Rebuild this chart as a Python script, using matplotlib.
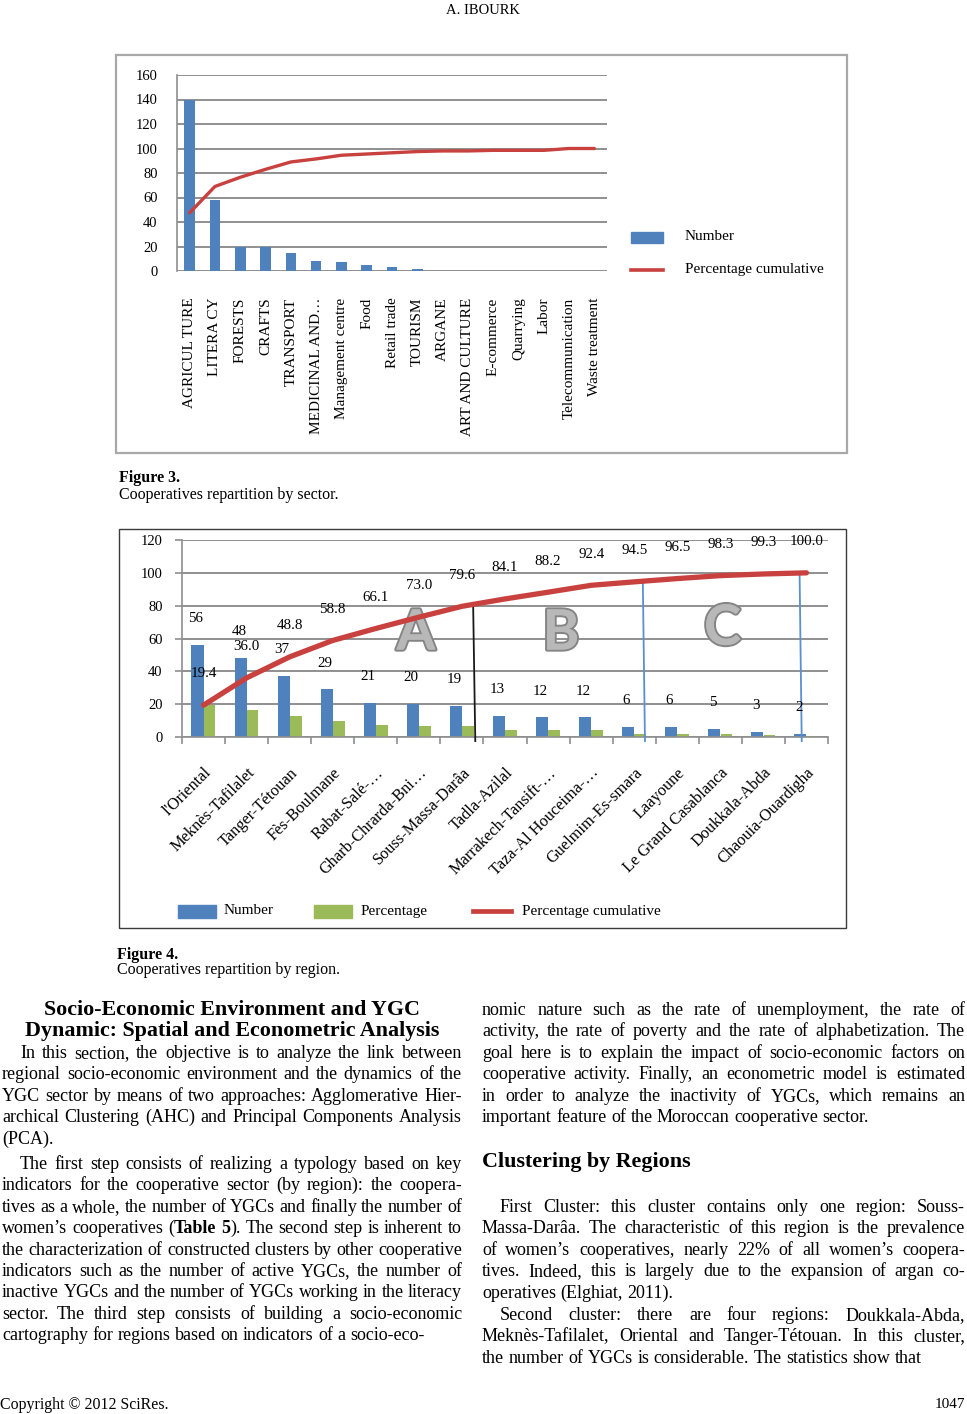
import matplotlib
matplotlib.use("Agg")
import matplotlib.pyplot as plt
import matplotlib.patheffects as pe
from matplotlib.patches import Rectangle
from matplotlib.lines import Line2D
import numpy as np

W, H = 967, 1414
SERIF = ["Liberation Serif", "DejaVu Serif"]
BLUE = "#4F81BD"
GREEN = "#9BBB59"
RED = "#C8413F"
GRID = "#8f8f8f"

# ---- Figure 3 data (by sector)
sectors = ["AGRICUL TURE", "LITERA CY", "FORESTS", "CRAFTS", "TRANSPORT",
           "MEDICINAL AND…", "Management centre", "Food", "Retail trade",
           "TOURISM", "ARGANE", "ART AND CULTURE", "E-commerce", "Quarrying",
           "Labor", "Telecommunication", "Waste treatment"]
sector_number = [140, 58, 20, 20, 15, 8, 7, 5, 3, 2, 0, 0, 0, 0, 0, 0, 0]
sector_cum = [47.5, 69, 76.5, 83, 89, 91.5, 94.5, 95.5, 96.5, 97.5, 98, 98,
              98.5, 98.5, 98.5, 100, 100]

# ---- Figure 4 data (by region)
regions = ["l'Oriental", "Meknès-Tafilalet", "Tanger-Tétouan", "Fès-Boulmane",
           "Rabat-Salé-…", "Gharb-Chrarda-Bni…", "Souss-Massa-Darâa",
           "Tadla-Azilal", "Marrakech-Tansift-…", "Taza-Al Houceima-…",
           "Guelmim-Es-smara", "Laayoune", "Le Grand Casablanca",
           "Doukkala-Abda", "Chaouia-Ouardigha"]
region_number = [56, 48, 37, 29, 21, 20, 19, 13, 12, 12, 6, 6, 5, 3, 2]
region_pct = [19.4, 16.6, 12.8, 10.0, 7.3, 6.9, 6.6, 4.5, 4.2, 4.2, 2.1, 2.1,
              1.7, 1.0, 0.7]
region_cum = [19.4, 36.0, 48.8, 58.8, 66.1, 73.0, 79.6, 84.1, 88.2, 92.4,
              94.5, 96.5, 98.3, 99.3, 100.0]
cluster_names = ["A", "B", "C"]

# ---- page text
left_paras = [
    ["In this section, the objective is to analyze the link between",
     "regional socio-economic environment and the dynamics of the",
     "YGC sector by means of two approaches: Agglomerative Hier-",
     "archical Clustering (AHC) and Principal Components Analysis",
     "(PCA)."],
    ["The first step consists of realizing a typology based on key",
     "indicators for the cooperative sector (by region): the coopera-",
     "tives as a whole, the number of YGCs and finally the number of",
     "women’s cooperatives (*Table 5*). The second step is inherent to",
     "the characterization of constructed clusters by other cooperative",
     "indicators such as the number of active YGCs, the number of",
     "inactive YGCs and the number of YGCs working in the literacy",
     "sector. The third step consists of building a socio-economic",
     "cartography for regions based on indicators of a socio-eco-"],
]
right_paras = [
    ["nomic nature such as the rate of unemployment, the rate of",
     "activity, the rate of poverty and the rate of alphabetization. The",
     "goal here is to explain the impact of socio-economic factors on",
     "cooperative activity. Finally, an econometric model is estimated",
     "in order to analyze the inactivity of YGCs, which remains an",
     "important feature of the Moroccan cooperative sector."],
    ["First Cluster: this cluster contains only one region: Souss-",
     "Massa-Darâa. The characteristic of this region is the prevalence",
     "of women’s cooperatives, nearly 22% of all women’s coopera-",
     "tives. Indeed, this is largely due to the expansion of argan co-",
     "operatives (Elghiat, 2011)."],
    ["Second cluster: there are four regions: Doukkala-Abda,",
     "Meknès-Tafilalet, Oriental and Tanger-Tétouan. In this cluster,",
     "the number of YGCs is considerable. The statistics show that"],
]

fig = plt.figure(figsize=(W / 100, H / 100), dpi=100)
fig.patch.set_facecolor("white")
renderer = fig.canvas.get_renderer()


def rect(l, t, r, b):
    return [l / W, 1 - b / H, (r - l) / W, (b - t) / H]


def ftext(x, y, s, **kw):
    kw.setdefault("family", SERIF)
    kw.setdefault("color", "black")
    return fig.text(x / W, 1 - y / H, s, **kw)


def measure(s, size, bold=False):
    t = fig.text(0, 0, s, fontsize=size, family=SERIF,
                 fontweight="bold" if bold else "normal")
    w = t.get_window_extent(renderer=renderer).width
    t.remove()
    return w


def split_words(line):
    words, bold = [], False
    for raw in line.split(" "):
        pieces, buf = [], ""
        for ch in raw:
            if ch == "*":
                if buf:
                    pieces.append((buf, bold))
                buf, bold = "", not bold
            else:
                buf += ch
        if buf:
            pieces.append((buf, bold))
        words.append(pieces)
    return words


BODY = 13.0
SPACE = measure("a a", BODY) - measure("aa", BODY)


def body_line(line, x0, x1, y, indent=0, justify=True):
    words = split_words(line)
    widths = [[measure(p, BODY, b) for p, b in w] for w in words]
    total = sum(sum(w) for w in widths)
    gap = SPACE
    if justify and len(words) > 1:
        gap = (x1 - x0 - indent - total) / (len(words) - 1)
    x = x0 + indent
    for w, ws in zip(words, widths):
        for (p, b), pw in zip(w, ws):
            ftext(x, y + 4, p, fontsize=BODY, va="baseline",
                  fontweight="bold" if b else "normal")
            x += pw
        x += gap


def paragraph(lines, x0, x1, y0, indent, first_indent=True, step=21.4):
    for i, line in enumerate(lines):
        last = i == len(lines) - 1
        body_line(line, x0, x1, y0 + i * step,
                  indent=indent if (i == 0 and first_indent) else 0,
                  justify=not last)


# ---- header, boxes, captions
ftext(483, 11, "A. IBOURK", fontsize=10.5, ha="center", va="center")
fig.add_artist(Rectangle((116 / W, 1 - 453 / H), (847 - 116) / W, (453 - 55) / H,
                         transform=fig.transFigure, fill=False, ec="#a8a8a8", lw=1.6))
fig.add_artist(Rectangle((119 / W, 1 - 928 / H), (846 - 119) / W, (928 - 529) / H,
                         transform=fig.transFigure, fill=False, ec="#3a3a3a", lw=1.0))
ftext(119, 478, "Figure 3.", fontsize=11.5, fontweight="bold", va="center")
ftext(119, 495, "Cooperatives repartition by sector.", fontsize=11.5, va="center")
ftext(117, 955, "Figure 4.", fontsize=11.5, fontweight="bold", va="center")
ftext(117, 970, "Cooperatives repartition by region.", fontsize=11.5, va="center")

# ---- Figure 3
ax3 = fig.add_axes(rect(177, 75, 607, 271))
x3 = np.arange(len(sectors))
ax3.bar(x3, sector_number, width=0.42, color=BLUE, zorder=2)
ax3.plot(x3, sector_cum, color=RED, lw=2.4, zorder=3, solid_capstyle="round")
ax3.set_xlim(-0.5, len(sectors) - 0.5)
ax3.set_ylim(0, 160)
ax3.set_yticks(np.arange(0, 161, 20))
ax3.yaxis.grid(True, color=GRID, lw=1.4, zorder=0)
ax3.set_axisbelow(True)
for s in ["top", "right", "bottom"]:
    ax3.spines[s].set_visible(False)
ax3.spines["left"].set_color(GRID)
ax3.spines["left"].set_linewidth(1.2)
ax3.set_xticks(x3)
ax3.set_xticklabels(sectors, rotation=90, family=SERIF, fontsize=11)
ax3.tick_params(axis="x", length=0, pad=19)
ax3.tick_params(axis="y", length=0, pad=14, labelsize=10.5)
for lab in ax3.get_yticklabels():
    lab.set_family(SERIF)

# legend of figure 3
fig.add_artist(Rectangle((631 / W, 1 - 243 / H), 32 / W, 11 / H,
                         transform=fig.transFigure, color=BLUE))
ftext(685, 237, "Number", fontsize=11, va="center")
fig.add_artist(Line2D([631 / W, 663 / W], [1 - 270 / H, 1 - 270 / H],
                      transform=fig.transFigure, color=RED, lw=2.6))
ftext(685, 270, "Percentage cumulative", fontsize=11, va="center")

# ---- Figure 4
ax4 = fig.add_axes(rect(182, 540, 828, 737))
x4 = np.arange(len(regions))
ax4.bar(x4 - 0.14, region_number, width=0.28, color=BLUE, zorder=2)
ax4.bar(x4 + 0.14, region_pct, width=0.27, color=GREEN, zorder=2)
ax4.plot(x4, region_cum, color=RED, lw=3.8, zorder=4, solid_capstyle="round")
ax4.set_xlim(-0.5, len(regions) - 0.5)
ax4.set_ylim(0, 120)
ax4.set_yticks(np.arange(0, 121, 20))
ax4.yaxis.grid(True, color=GRID, lw=1.4, zorder=0)
ax4.set_axisbelow(True)
for s in ["top", "right"]:
    ax4.spines[s].set_visible(False)
for s in ["left", "bottom"]:
    ax4.spines[s].set_color(GRID)
    ax4.spines[s].set_linewidth(1.2)
ax4.set_xticks(x4)
ax4.set_xticklabels(regions, rotation=45, ha="right", rotation_mode="anchor",
                    family=SERIF, fontsize=11.8)
ax4.set_xticks(np.arange(-0.5, len(regions), 1), minor=True)
ax4.tick_params(axis="x", which="major", length=0, pad=20)
ax4.tick_params(axis="x", which="minor", length=5, color=GRID, width=1.2)
ax4.tick_params(axis="y", length=5, color=GRID, width=1.2, pad=9, labelsize=10.5)
for lab in ax4.get_yticklabels():
    lab.set_family(SERIF)

for i in x4:
    ax4.text(i - 0.18, region_number[i] + 16, f"{region_number[i]}", ha="center",
             va="center", fontsize=10.8, family=SERIF, clip_on=False, zorder=5)
    ax4.text(i, min(region_cum[i] + 19, 119.5), f"{region_cum[i]:.1f}", ha="center",
             va="center", fontsize=10.8, family=SERIF, clip_on=False, zorder=5)

# cluster separators, drawn down from the cumulative curve
splits = [6.26, 10.2, 13.84]
split_colors = ["#1a1a1a", "#5b8fd0", "#5b8fd0"]
for xs, c in zip(splits, split_colors):
    ytop = np.interp(xs, x4, region_cum)
    ax4.plot([xs, xs + 0.05], [ytop, -2.5], color=c, lw=1.3, zorder=3, clip_on=False)

letter_pos = [(4.93, 63), (8.3, 63), (12.05, 66)]
for name, (lx, ly) in zip(cluster_names, letter_pos):
    ax4.text(lx, ly, name, ha="center", va="center", fontsize=40, fontweight="bold",
             family=["Lato", "DejaVu Sans"], color="#b8b8b8", zorder=3,
             path_effects=[pe.withStroke(linewidth=3, foreground="#858585"),
                           pe.Normal()])

# legend of figure 4
fig.add_artist(Rectangle((178 / W, 1 - 918 / H), 38 / W, 13 / H,
                         transform=fig.transFigure, color=BLUE))
ftext(224, 911, "Number", fontsize=11, va="center")
fig.add_artist(Rectangle((314 / W, 1 - 918 / H), 38 / W, 13 / H,
                         transform=fig.transFigure, color=GREEN))
ftext(361, 911, "Percentage", fontsize=11, va="center")
fig.add_artist(Line2D([473 / W, 511 / W], [1 - 911 / H, 1 - 911 / H],
                      transform=fig.transFigure, color=RED, lw=3.4))
ftext(522, 911, "Percentage cumulative", fontsize=11, va="center")

# ---- body text
ftext(232, 1010, "Socio-Economic Environment and YGC", fontsize=15.8,
      fontweight="bold", ha="center", va="center")
ftext(232, 1031, "Dynamic: Spatial and Econometric Analysis", fontsize=15.8,
      fontweight="bold", ha="center", va="center")
paragraph(left_paras[0], 2, 462, 1054, 18)
paragraph(left_paras[1], 2, 462, 1165, 18)

paragraph(right_paras[0], 482, 965, 1011, 18, first_indent=False)
ftext(482, 1162, "Clustering by Regions", fontsize=15.8, fontweight="bold", va="center")
paragraph(right_paras[1], 482, 965, 1208, 18)
paragraph(right_paras[2], 482, 965, 1316, 18)

ftext(0, 1405, "Copyright © 2012 SciRes.", fontsize=11.4, va="center")
ftext(965, 1405, "1047", fontsize=11, va="center", ha="right")

fig.savefig("out.png", dpi=100, facecolor="white")
